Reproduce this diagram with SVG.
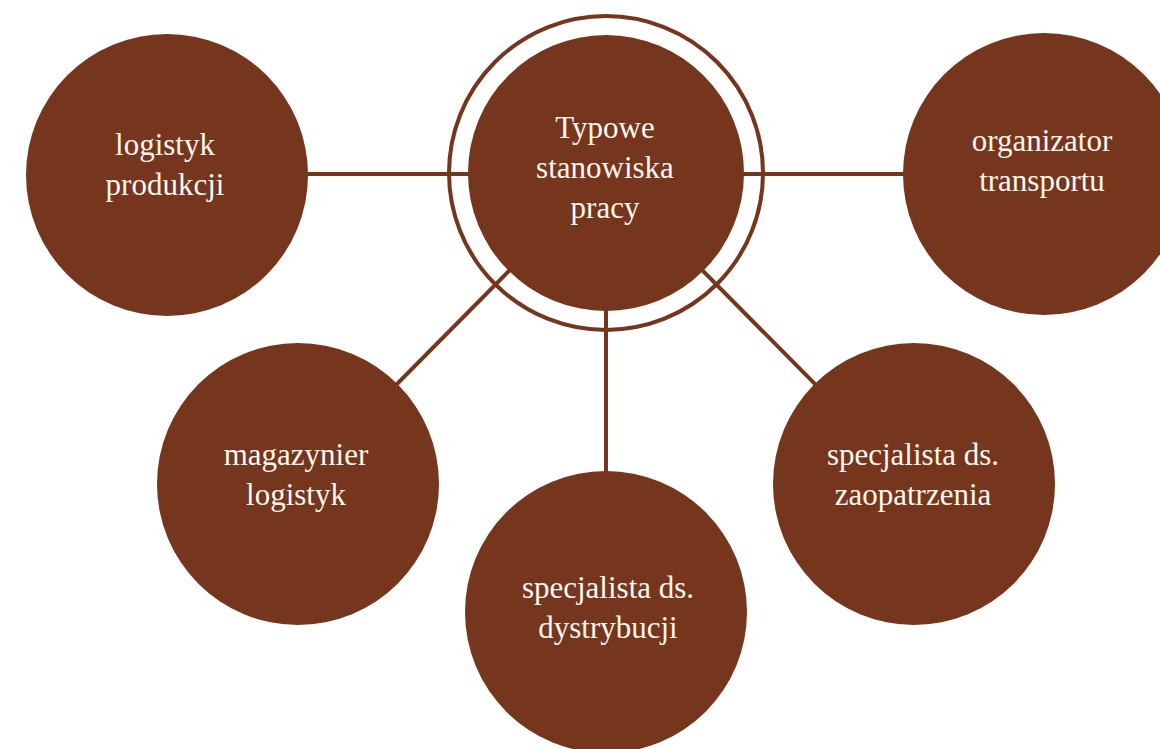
<svg xmlns="http://www.w3.org/2000/svg" width="1160" height="749" viewBox="0 0 1160 749">
<style>
.node{fill:#75361d}
.lbl{font-family:"Liberation Serif","DejaVu Serif",serif;font-size:31px;fill:#fbf6f0;text-anchor:middle}
.conn{stroke:#75361d;stroke-width:4;fill:none}
</style>
<rect width="1160" height="749" fill="#ffffff"/>
<g id="connectors" class="conn">
<line x1="167" y1="174" x2="606" y2="174"/>
<line x1="606" y1="174" x2="1044" y2="174"/>
<line x1="606" y1="173" x2="298" y2="484"/>
<line x1="606" y1="173" x2="606" y2="612"/>
<line x1="606" y1="173" x2="914" y2="484"/>
</g>
<g id="center">
<circle cx="606" cy="173" r="157" fill="none" stroke="#75361d" stroke-width="4"/>
<circle class="node" cx="606" cy="173" r="138"/>
<text class="lbl" x="605" y="138">Typowe</text>
<text class="lbl" x="605" y="178">stanowiska</text>
<text class="lbl" x="605" y="218">pracy</text>
</g>
<g id="logistyk-produkcji">
<circle class="node" cx="167" cy="175" r="141"/>
<text class="lbl" x="165" y="155">logistyk</text>
<text class="lbl" x="165" y="195">produkcji</text>
</g>
<g id="organizator-transportu">
<circle class="node" cx="1044" cy="174" r="141"/>
<text class="lbl" x="1042" y="151">organizator</text>
<text class="lbl" x="1042" y="191">transportu</text>
</g>
<g id="magazynier-logistyk">
<circle class="node" cx="298" cy="484" r="141"/>
<text class="lbl" x="296" y="465">magazynier</text>
<text class="lbl" x="296" y="505">logistyk</text>
</g>
<g id="specjalista-dystrybucji">
<circle class="node" cx="606" cy="612" r="141"/>
<text class="lbl" x="608" y="598">specjalista ds.</text>
<text class="lbl" x="608" y="638">dystrybucji</text>
</g>
<g id="specjalista-zaopatrzenia">
<circle class="node" cx="914" cy="484" r="141"/>
<text class="lbl" x="913" y="465">specjalista ds.</text>
<text class="lbl" x="913" y="505">zaopatrzenia</text>
</g>
</svg>
